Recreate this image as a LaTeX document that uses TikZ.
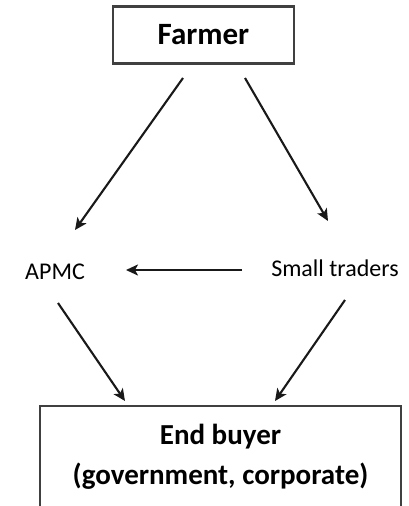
\documentclass[tikz,border=0pt]{standalone}
\usepackage{fontspec}
\setmainfont{Carlito}
\usetikzlibrary{arrows.meta}
\begin{document}
\begin{tikzpicture}[x=1pt,y=-1pt,
  box/.style={draw=black!75,line width=2.2pt,inner sep=0pt},
  flow/.style={line width=2.1pt,draw=black!90,-{Stealth[length=12pt,width=11pt,inset=3pt]}},
  actor/.style={inner sep=0pt,font=\fontsize{24}{28}\selectfont}]
\useasboundingbox (0,0) rectangle (408,506);
\fill[white] (0,0) rectangle (408,506);
% top and bottom boxes
\node[box,minimum width=181pt,minimum height=57pt,font=\bfseries\fontsize{31}{36}\selectfont] (farmer) at (203.5,35) {Farmer};
\draw[box] (40,515) |- (401,406) -- (401,515);
\node[font=\bfseries\fontsize{29}{40}\selectfont,align=center] (buyer) at (220.5,457) {End buyer\\(government, corporate)};
% intermediaries
\node[actor] (apmc) at (55,272) {APMC};
\node[actor] (traders) at (335,268) {Small traders};
% anchors for the arrows
\coordinate (f1) at (183,78);
\coordinate (f2) at (245,78);
\coordinate (a1) at (75,230);
\coordinate (t1) at (328,221);
\coordinate (t2) at (242,270);
\coordinate (a2) at (126,270);
\coordinate (a3) at (58,303);
\coordinate (b1) at (125,401);
\coordinate (t3) at (345,300);
\coordinate (b2) at (275,401);
\draw[flow] (f1) -- (a1);
\draw[flow] (f2) -- (t1);
\draw[flow] (t2) -- (a2);
\draw[flow] (a3) -- (b1);
\draw[flow] (t3) -- (b2);
\end{tikzpicture}
\end{document}
